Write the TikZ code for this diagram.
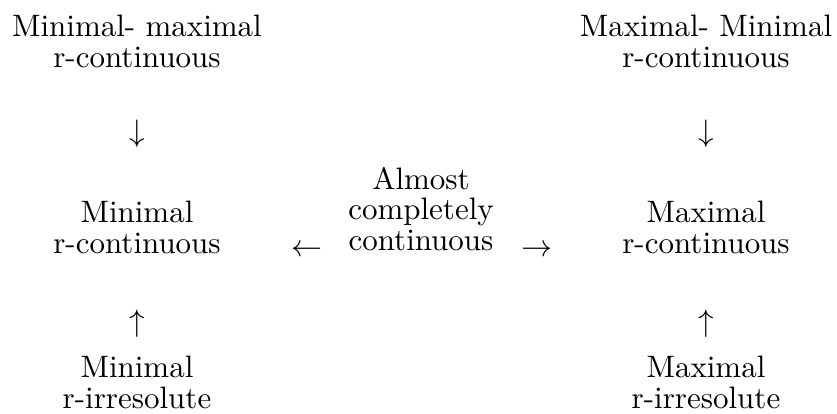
\documentclass[tikz,border=0pt]{standalone}
\begin{document}
\begin{tikzpicture}[x=0.3226pt,y=-0.3226pt,
  term/.style={align=center,inner sep=0pt,anchor=base,font=\fontsize{10}{9.7}\selectfont},
  arr/.style={inner sep=0pt,anchor=base}]
% minimal/maximal r-continuity implications
\useasboundingbox (0,0) rectangle (837,413);

% top row
\node[term] (mmL) at (137,67) {Minimal- maximal\\r-continuous};
\node[term] (mmR) at (706,67) {Maximal- Minimal\\r-continuous};
\node[arr] (dL) at (137,141) {$\downarrow$};
\node[arr] (dR) at (706,141) {$\downarrow$};

% middle row
\node[term] (minC) at (137,253) {Minimal\\r-continuous};
\node[term] (acc) at (421,250) {Almost\\completely\\continuous};
\node[term] (maxC) at (706,253) {Maximal\\r-continuous};
\node[arr] (lA) at (307,256) {$\leftarrow$};
\node[arr] (rA) at (537,256) {$\rightarrow$};

% bottom row
\node[arr] (uL) at (137,331) {$\uparrow$};
\node[arr] (uR) at (706,331) {$\uparrow$};
\node[term] (minI) at (137,408) {Minimal\\r-irresolute};
\node[term] (maxI) at (706,408) {Maximal\\r-irresolute};

\end{tikzpicture}
\end{document}
